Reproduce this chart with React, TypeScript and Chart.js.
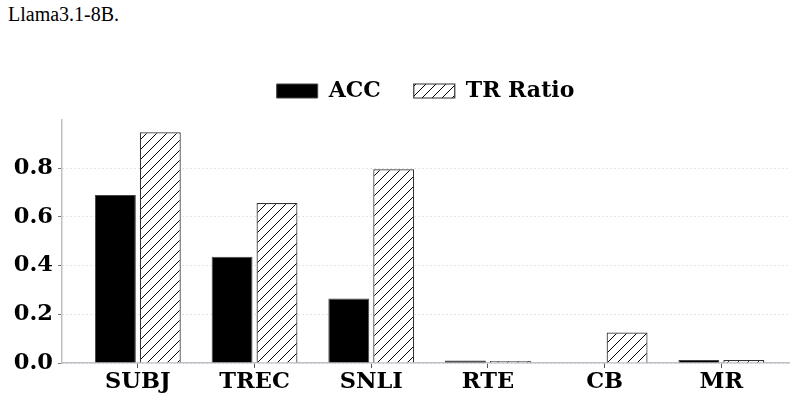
import React, { useEffect, useRef } from "react";
import { Chart, registerables } from "chart.js";

Chart.register(...registerables);

const categories = ["SUBJ", "TREC", "SNLI", "RTE", "CB", "MR"];
const accValues = [0.69, 0.437, 0.265, 0.01, 0.0, 0.012];
const trRatioValues = [0.948, 0.657, 0.796, 0.008, 0.125, 0.012];
const yTicks = [0, 0.2, 0.4, 0.6, 0.8];
const seriesNames = ["ACC", "TR Ratio"];

function makeHatch(): CanvasPattern | string {
  const c = document.createElement("canvas");
  const s = 10;
  c.width = s;
  c.height = s;
  const g = c.getContext("2d");
  if (!g) return "#fff";
  g.fillStyle = "#ffffff";
  g.fillRect(0, 0, s, s);
  g.strokeStyle = "#000000";
  g.lineWidth = 1;
  g.beginPath();
  g.moveTo(-1, s + 1);
  g.lineTo(s + 1, -1);
  g.moveTo(-1, 1);
  g.lineTo(1, -1);
  g.moveTo(s - 1, s + 1);
  g.lineTo(s + 1, s - 1);
  g.stroke();
  const p = g.createPattern(c, "repeat");
  return p || "#fff";
}

const FONT = "'DejaVu Serif', serif";

export default function App() {
  const ref = useRef<HTMLCanvasElement | null>(null);

  useEffect(() => {
    document.body.style.margin = "0";
    const canvas = ref.current;
    if (!canvas) return;
    const hatch = makeHatch();
    const chart = new Chart(canvas, {
      type: "bar",
      data: {
        datasets: [
          {
            label: seriesNames[0],
            data: accValues.map((v, i) => ({ x: i, y: v })),
            backgroundColor: "#000000",
            borderColor: "#444444",
            borderWidth: 1,
          },
          {
            label: seriesNames[1],
            data: trRatioValues.map((v, i) => ({ x: i, y: v })),
            backgroundColor: hatch as any,
            borderColor: "#333333",
            borderWidth: 1.2,
          },
        ],
      },
      options: {
        animation: false,
        responsive: false,
        devicePixelRatio: 1,
        categoryPercentage: 0.77,
        barPercentage: 0.91,
        layout: { padding: { top: 47, right: 13, left: 0, bottom: 0 } },
        plugins: {
          legend: {
            display: true,
            position: "top",
            fullSize: false,
            labels: {
              boxWidth: 41,
              boxHeight: 14,
              padding: 33,
              color: "#000",
              font: { family: FONT, size: 22, weight: "bold" },
            },
          },
          title: {
            display: true,
            text: "",
            weight: 100,
            position: "top",
            font: { size: 1 },
            padding: { top: 0, bottom: 7 },
          },
          tooltip: { enabled: false },
        },
        scales: {
          x: {
            type: "linear",
            offset: false,
            min: -0.65,
            max: 5.58,
            afterBuildTicks: (scale: any) => {
              scale.ticks = categories.map((_, i) => ({ value: i }));
            },
            afterFit: (scale: any) => {
              scale.height = 38;
            },
            ticks: {
              callback: (v: any) => categories[Number(v)] ?? "",
              color: "#000",
              font: { family: FONT, size: 22.5, weight: "bold" },
              padding: 1,
              maxRotation: 0,
              autoSkip: false,
            },
            grid: {
              display: true,
              offset: false,
              drawOnChartArea: false,
              drawTicks: true,
              tickLength: 5,
              tickColor: "#555",
              tickWidth: 1,
            },
            border: { display: true, color: "#c0c0c8", width: 1.5 },
          },
          y: {
            type: "linear",
            min: 0,
            max: 0.9975,
            afterBuildTicks: (scale: any) => {
              scale.ticks = yTicks.map((v) => ({ value: v }));
            },
            afterFit: (scale: any) => {
              scale.width = 62;
            },
            ticks: {
              callback: (v: any) => Number(v).toFixed(1),
              color: "#000",
              font: { family: FONT, size: 22.5, weight: "bold" },
              padding: 5,
            },
            grid: {
              display: true,
              drawOnChartArea: true,
              color: "#dddddd",
              lineWidth: 1,
              drawTicks: true,
              tickLength: 4,
              tickColor: "#777",
              tickWidth: 1,
              tickBorderDash: [],
            },
            border: { display: true, color: "#c0c0c8", width: 1.5, dash: [1.5, 2.5] },
          },
        },
      },
    } as any);
    return () => chart.destroy();
  }, []);

  return (
    <div style={{ position: "relative", width: 802, height: 401, background: "#fff", overflow: "hidden" }}>
      <div
        style={{
          position: "absolute",
          left: 8,
          top: 4,
          fontFamily: "'Liberation Serif', 'Times New Roman', serif",
          fontSize: 20,
          lineHeight: "20px",
          color: "#000",
          whiteSpace: "nowrap",
        }}
      >
        Llama3.1-8B.
      </div>
      <canvas ref={ref} width={802} height={401} style={{ position: "absolute", left: 0, top: 0 }} />
    </div>
  );
}
